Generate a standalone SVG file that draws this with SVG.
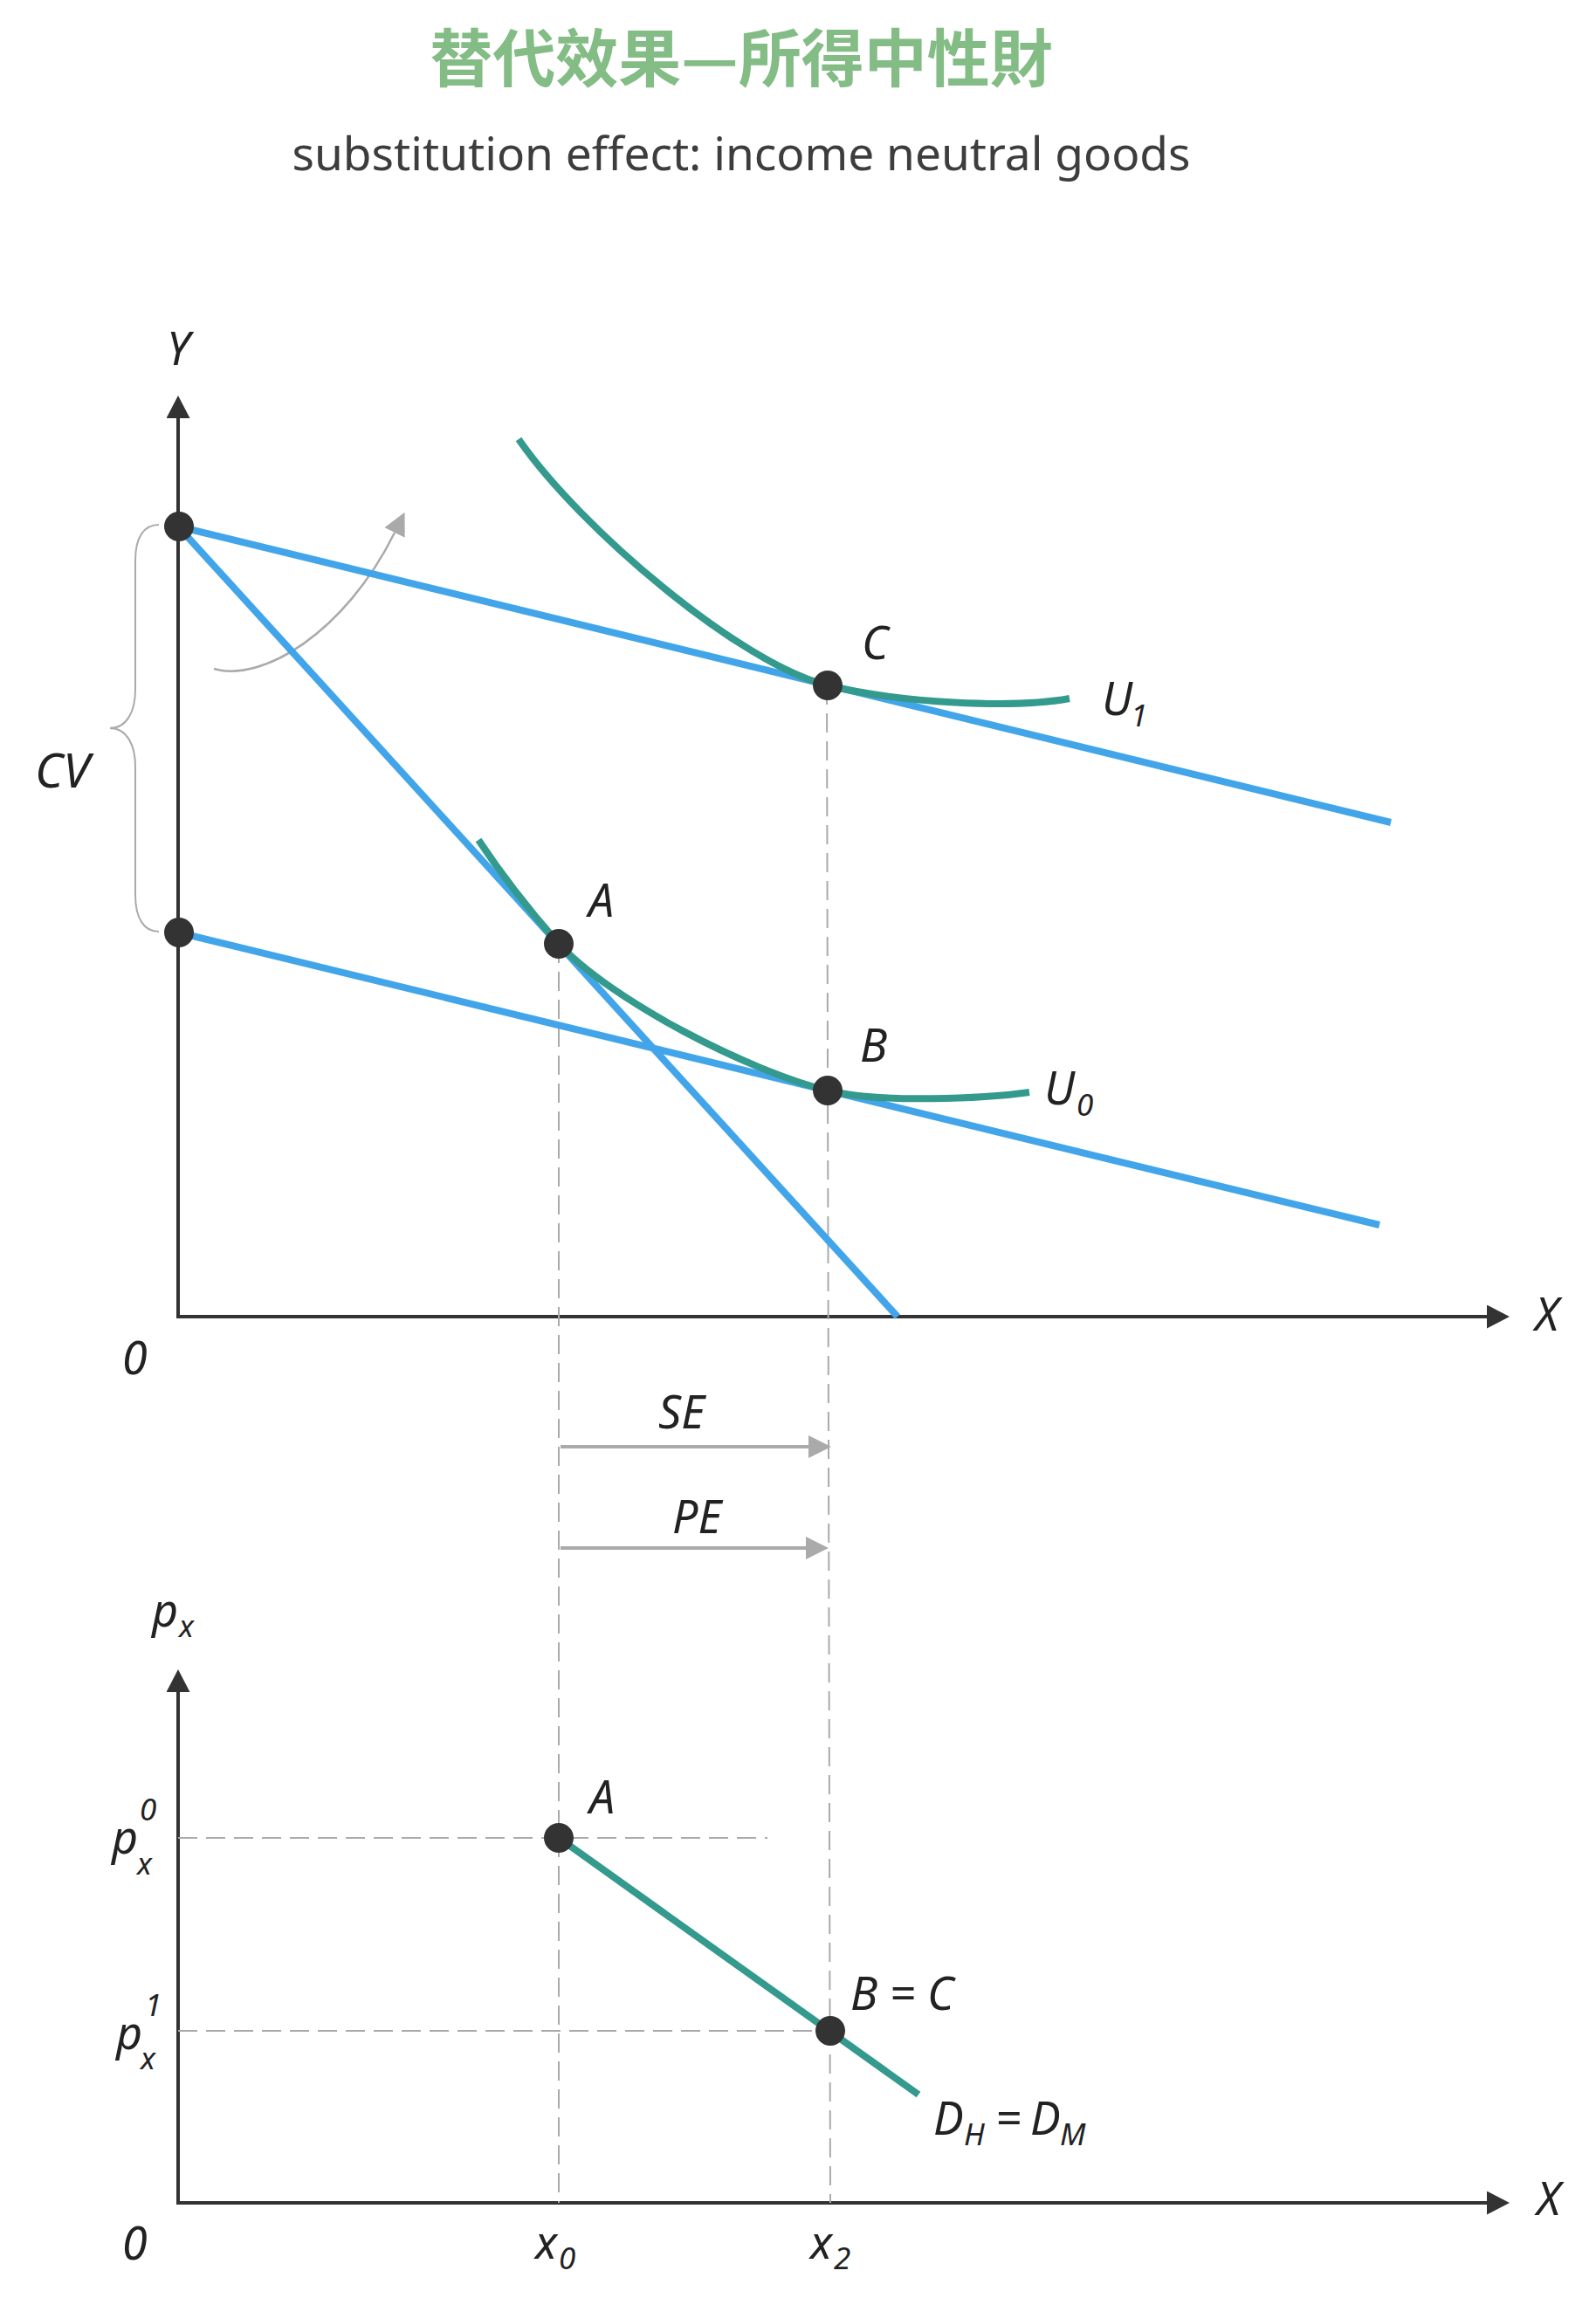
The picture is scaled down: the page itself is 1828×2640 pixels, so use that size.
<svg xmlns="http://www.w3.org/2000/svg" width="1828" height="2640" viewBox="0 0 1828 2640">
<defs>
<style>
.axis{fill:none;stroke:#333;stroke-width:4}
.budget{fill:none;stroke:#42a5ea;stroke-width:8}
.curve{fill:none;stroke:#349a8e;stroke-width:8}
.dash{fill:none;stroke:#aaa;stroke-width:2;stroke-dasharray:22 10}
.garrow{fill:none;stroke:#aaa;stroke-width:4}
.thin{fill:none;stroke:#aaa;stroke-width:2.5}
.brace{fill:none;stroke:#aaa;stroke-width:2}
.dot{fill:#333}
.lbl{font-family:"Noto Sans","DejaVu Sans",sans-serif;font-style:italic;font-size:52px;fill:#222}
.sub{font-size:35px}
.title{font-family:"Noto Sans CJK TC","Noto Sans CJK SC",sans-serif;font-weight:bold;font-size:72px;fill:#83bc85}
.subtitle{font-family:"Noto Sans","DejaVu Sans",sans-serif;font-size:53px;fill:#3d3d3d}
</style>
<marker id="ah" viewBox="0 0 26 27" refX="0" refY="13.5" markerWidth="26" markerHeight="27" markerUnits="userSpaceOnUse" orient="auto-start-reverse"><path d="M0,0 L26,13.5 L0,27 z" fill="#333"/></marker>
<marker id="gh" viewBox="0 0 26 26" refX="0" refY="13" markerWidth="26" markerHeight="26" markerUnits="userSpaceOnUse" orient="auto"><path d="M0,0 L26,13 L0,26 z" fill="#aaa"/></marker>
</defs>
<rect width="1828" height="2640" fill="#fff"/>

<g id="title">
<text class="title" x="849" y="93" text-anchor="middle">替代效果—所得中性財</text>
<text class="subtitle" x="849" y="195" text-anchor="middle" textLength="1029" lengthAdjust="spacingAndGlyphs">substitution effect: income neutral goods</text>
</g>

<g id="axes">
<path class="axis" d="M204,479 L204,1508 L1703,1508" marker-start="url(#ah)" marker-end="url(#ah)"/>
<path class="axis" d="M204,1938 L204,2523 L1703,2523" marker-start="url(#ah)" marker-end="url(#ah)"/>
</g>

<g id="connectors">
<path class="dash" d="M640,1081 L640,2523"/>
<path class="dash" d="M947,785 L951,2523"/>
<path class="dash" d="M204,2105 L879,2105"/>
<path class="dash" d="M204,2326 L951,2326"/>
<path class="garrow" d="M642,1657 L926,1657" marker-end="url(#gh)"/>
<path class="garrow" d="M642,1773 L923,1773" marker-end="url(#gh)"/>
<path class="thin" d="M245,766 C300,782 395,725 452,610" marker-end="url(#gh)"/>
<path class="brace" d="M182,601 C165,601 155,615 155,642 L155,790 C155,815 145,834 126,834 C145,834 155,853 155,878 L155,1025 C155,1052 165,1067 182,1067"/>
</g>

<g id="budget-lines">
<path class="budget" d="M204,603 L1593,942"/>
<path class="budget" d="M204,603 L1028,1508"/>
<path class="budget" d="M204,1068 L1580,1403"/>
</g>

<g id="indifference-curves">
<path id="U1" class="curve" d="M594,503 C664,604.5 848,760.6 948,785 C1030,805 1160,812 1225,800"/>
<path id="U0" class="curve" d="M548,962 C578,1007 610,1047 640,1081 C700,1146 858,1227 948,1249 C1008,1264 1129,1258 1179,1251"/>
<path id="demand" class="curve" d="M640,2105 L1052,2399"/>
</g>

<g id="node-Y0"><circle class="dot" cx="205" cy="603" r="17"/></g>
<g id="node-Y1"><circle class="dot" cx="205" cy="1068" r="17"/></g>
<g id="node-C"><circle class="dot" cx="948" cy="785" r="17"/><text class="lbl" x="987" y="755">C</text></g>
<g id="node-A"><circle class="dot" cx="640" cy="1081" r="17"/><text class="lbl" x="674" y="1050">A</text></g>
<g id="node-B"><circle class="dot" cx="948" cy="1249" r="17"/><text class="lbl" x="985" y="1216">B</text></g>
<g id="node-A2"><circle class="dot" cx="640" cy="2105" r="17"/><text class="lbl" x="675" y="2077">A</text></g>
<g id="node-BC"><circle class="dot" cx="951" cy="2326" r="17"/><text class="lbl" x="974" y="2302">B = C</text></g>

<g id="labels">
<text class="lbl" x="191" y="418">Y</text>
<text class="lbl" x="40" y="902" style="font-size:55px">CV</text>
<text class="lbl" x="1262" y="819">U</text><text class="lbl sub" x="1295" y="832">1</text>
<text class="lbl" x="1196" y="1265">U</text><text class="lbl sub" x="1233" y="1278">0</text>
<text class="lbl" x="140" y="1574">0</text>
<text class="lbl" x="1758" y="1524">X</text>
<text class="lbl" x="754" y="1636">SE</text>
<text class="lbl" x="770" y="1756">PE</text>
<text class="lbl" x="174" y="1863">p</text><text class="lbl sub" x="205" y="1875">x</text>
<text class="lbl" x="128" y="2123">p</text><text class="lbl sub" x="160" y="2085">0</text><text class="lbl sub" x="157" y="2147">x</text>
<text class="lbl" x="133" y="2347">p</text><text class="lbl sub" x="166" y="2309">1</text><text class="lbl sub" x="161" y="2370">x</text>
<text class="lbl" x="1069" y="2445">D</text><text class="lbl sub" x="1104" y="2457">H</text><text class="lbl" x="1140" y="2445">=</text><text class="lbl" x="1180" y="2445">D</text><text class="lbl sub" x="1214" y="2457">M</text>
<text class="lbl" x="140" y="2588">0</text>
<text class="lbl" x="613" y="2587">x</text><text class="lbl sub" x="640" y="2599">0</text>
<text class="lbl" x="928" y="2587">x</text><text class="lbl sub" x="955" y="2599">2</text>
<text class="lbl" x="1760" y="2537">X</text>
</g>
</svg>
